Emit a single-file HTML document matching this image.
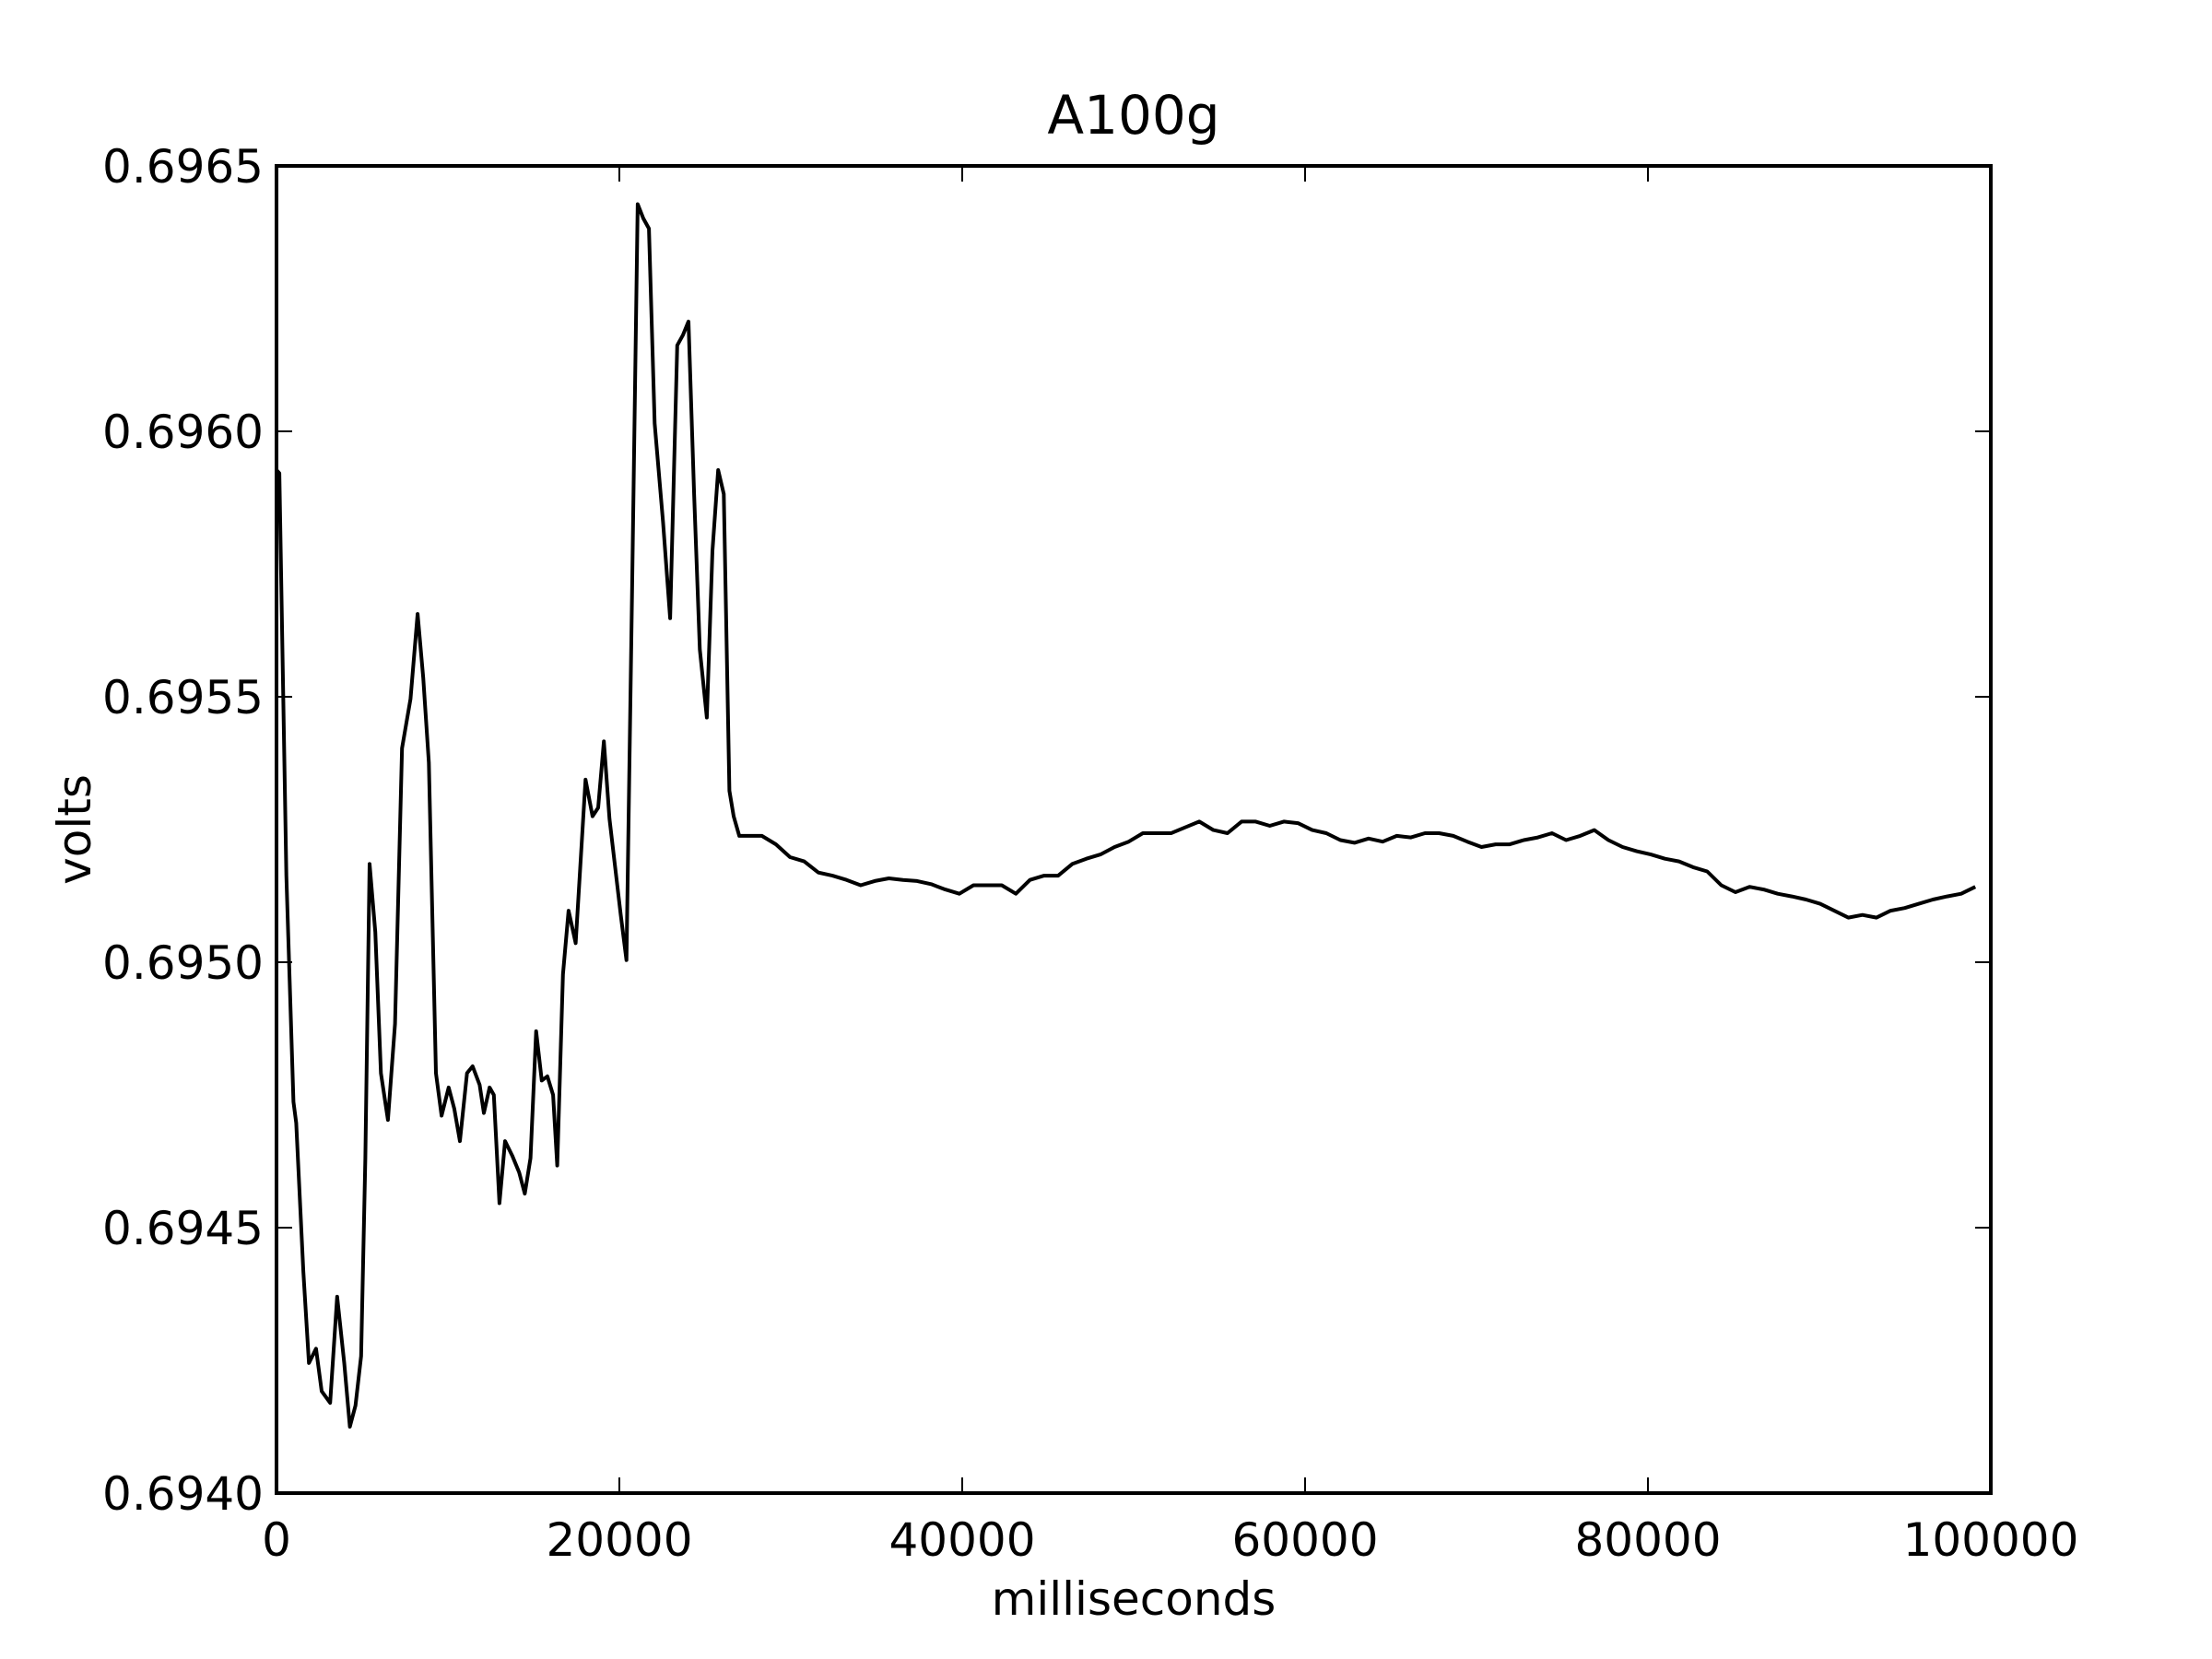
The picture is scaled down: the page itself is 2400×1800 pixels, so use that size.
<!DOCTYPE html>
<html><head><meta charset="utf-8"><style>body{margin:0;background:#fff}svg{display:block}text{font-family:"DejaVu Sans","Liberation Sans",sans-serif;fill:#000}</style></head>
<body>
<svg id="chart" width="2400" height="1800" viewBox="0 0 2400 1800" xmlns="http://www.w3.org/2000/svg">
<rect width="2400" height="1800" fill="#fff"/>
<text x="1230" y="145" font-size="58" text-anchor="middle">A100g</text>
<text x="1230" y="1752" font-size="50" text-anchor="middle">milliseconds</text>
<text transform="translate(98,900) rotate(-90)" font-size="50" text-anchor="middle">volts</text>
<g id="ticks"></g>
<path id="line" fill="none" stroke="#000" stroke-width="4" stroke-linejoin="round"/>
<rect x="300" y="180" width="1860" height="1440" fill="none" stroke="#000" stroke-width="4"/>
</svg>
<script>
const xTicks=[0,20000,40000,60000,80000,100000];
const xTickLabels=["0","20000","40000","60000","80000","100000"];
const yTicks=[0.694,0.6945,0.695,0.6955,0.696,0.6965];
const yTickLabels=["0.6940","0.6945","0.6950","0.6955","0.6960","0.6965"];
const times=[0,165,576,988,1152,1564,1893,2305,2634,3128,3539,3951,4280,4609,4938,5185,5432,5761,6091,6502,6914,7325,7819,8230,8560,8889,9300,9630,10041,10370,10700,11111,11440,11852,12099,12428,12675,13004,13333,13745,14156,14486,14815,15144,15473,15802,16132,16379,16708,17037,17449,18025,18436,18765,19095,19424,20082,20412,20741,21070,21399,21728,22058,22551,22963,23374,23704,24033,24362,24691,25103,25432,25761,26091,26420,26667,26996,
27490,28313,29136,29959,30782,31605,32428,33251,34074,34897,35720,36543,37366,38189,39012,39835,40658,41481,42305,43128,43951,44774,45597,46420,47243,48066,48889,49712,50535,51358,52181,53004,53827,54650,55473,56296,57119,57942,58765,59588,60412,61235,62058,62881,63704,64527,65350,66173,66996,67819,68642,69465,70288,71111,71934,72757,73580,74403,75226,76049,76872,77695,78519,79342,80165,80988,81811,82634,83457,84280,85103,85926,86749,87572,88395,89218,90041,90864,91687,92510,93333,94156,94979,95802,96626,97449,98272,99095];
const volts=[0.695927,0.695921,0.695163,0.694737,0.694697,0.694418,0.694245,0.694272,0.694192,0.694170,0.694370,0.694245,0.694125,0.694165,0.694258,0.694631,0.695185,0.695057,0.694791,0.694703,0.694884,0.695403,0.695496,0.695656,0.695536,0.695376,0.694791,0.694711,0.694764,0.694724,0.694663,0.694791,0.694804,0.694769,0.694716,0.694764,0.694750,0.694546,0.694663,0.694636,0.694604,0.694564,0.694631,0.694870,0.694777,0.694785,0.694750,0.694617,0.694977,0.695097,0.695036,0.695344,0.695275,0.695291,0.695416,0.695270,0.695089,0.695004,0.695700,0.696428,0.696401,0.696382,0.696015,0.695829,0.695648,0.696162,0.696181,0.696207,0.695882,0.695589,0.695461,0.695775,0.695927,0.695882,0.695323,0.695275,0.695238,
0.695238,0.695238,0.695222,0.695198,0.695190,0.695169,0.695163,0.695155,0.695145,0.695153,0.695158,0.695155,0.695153,0.695147,0.695137,0.695129,0.695145,0.695145,0.695145,0.695129,0.695155,0.695163,0.695163,0.695185,0.695195,0.695203,0.695217,0.695227,0.695243,0.695243,0.695243,0.695254,0.695265,0.695249,0.695243,0.695265,0.695265,0.695257,0.695265,0.695262,0.695249,0.695243,0.695230,0.695225,0.695233,0.695227,0.695238,0.695235,0.695243,0.695243,0.695238,0.695227,0.695217,0.695222,0.695222,0.695230,0.695235,0.695243,0.695230,0.695238,0.695249,0.695230,0.695217,0.695209,0.695203,0.695195,0.695190,0.695179,0.695171,0.695145,0.695132,0.695142,0.695137,0.695129,0.695124,0.695118,0.695110,0.695097,0.695084,0.695089,0.695084,0.695097,0.695102,0.695110,0.695118,0.695124,0.695129,0.695142];
const L=300,R=2160,T=180,B=1620;
function xs(t){return L+(t-0)/(100000-0)*(R-L);}
function ys(v){return B-(v-0.694)/(0.6965-0.694)*(B-T);}
const NS="http://www.w3.org/2000/svg";
const g=document.getElementById('ticks');
function mk(tag,attrs){const e=document.createElementNS(NS,tag);for(const k in attrs)e.setAttribute(k,attrs[k]);g.appendChild(e);return e;}
xTicks.forEach((t,i)=>{const x=xs(t);
 let a=mk('line',{x1:x,x2:x,y1:B,y2:B-17,stroke:'#000','stroke-width':2});
 
 
 let b=mk('line',{x1:x,x2:x,y1:T,y2:T+17,stroke:'#000','stroke-width':2});
 
 
 let tx=mk('text',{x:x,y:B+68,'font-size':50,'text-anchor':'middle'});tx.textContent=xTickLabels[i];
 
 
});
yTicks.forEach((v,i)=>{const y=ys(v);
 let a=mk('line',{x1:L,x2:L+17,y1:y,y2:y,stroke:'#000','stroke-width':2});
 
 
 let b=mk('line',{x1:R,x2:R-17,y1:y,y2:y,stroke:'#000','stroke-width':2});
 
 
 let tx=mk('text',{x:L-14,y:y+18,'font-size':50,'text-anchor':'end'});tx.textContent=yTickLabels[i];
 
 
});
document.getElementById('line').setAttribute('d',times.map((t,i)=>(i?'L':'M')+xs(t).toFixed(1)+','+ys(volts[i]).toFixed(1)).join(''));
</script>
</body></html>
